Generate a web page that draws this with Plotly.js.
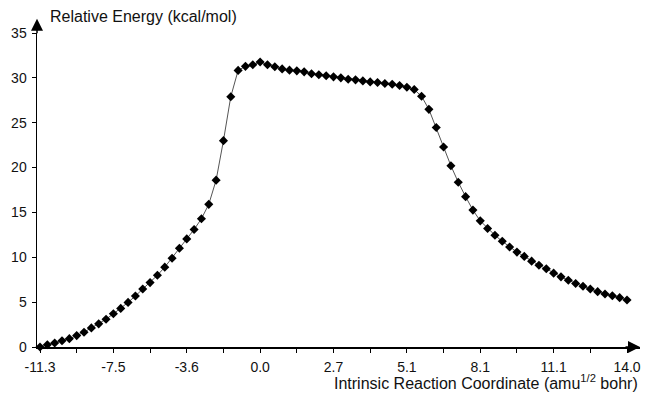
<!DOCTYPE html>
<html>
<head>
<meta charset="utf-8">
<script src="https://cdn.plot.ly/plotly-3.0.1.min.js"></script>
<style>
html,body{margin:0;padding:0;background:#fff;}
#chart{width:647px;height:412px;}
</style>
</head>
<body>
<div id="chart"></div>
<script>
// Relative energy (kcal/mol) along the IRC, one value per computed point (evenly spaced in index)
const energy = [
  0, 0.25, 0.45, 0.7, 0.93, 1.27, 1.65, 2.13, 2.58, 3.1,
  3.7, 4.3, 4.97, 5.69, 6.47, 7.18, 8.0, 8.9, 9.9, 11.0,
  12.05, 13.1, 14.3, 15.9, 18.6, 23.0, 27.9, 30.83, 31.28, 31.46,
  31.76, 31.46, 31.23, 31.0, 30.86, 30.78, 30.67, 30.45, 30.34, 30.23,
  30.11, 30.0, 29.85, 29.78, 29.66, 29.55, 29.49, 29.37, 29.29, 29.15,
  28.96, 28.7, 27.95, 26.49, 24.47, 22.3, 20.2, 18.37, 16.76, 15.26,
  14.06, 13.21, 12.46, 11.78, 11.14, 10.58, 10.1, 9.57, 9.12, 8.72,
  8.23, 7.82, 7.44, 7.07, 6.77, 6.47, 6.17, 5.91, 5.72, 5.5,
  5.24
];
// IRC tick labels (amu^1/2 bohr), one every 10 points
const ircLabels = ['-11.3', '-7.5', '-3.6', '0.0', '2.7', '5.1', '8.1', '11.1', '14.0'];
const labelEvery = 10;
const minorEvery = 5;

const idx = energy.map((_, i) => i);
const tickvals = [];
const ticktext = [];
for (let i = 0; i <= (ircLabels.length - 1) * labelEvery; i += minorEvery) {
  tickvals.push(i);
  ticktext.push(i % labelEvery === 0 ? ircLabels[i / labelEvery] : ' ');
}

const tickFont = {family: 'Liberation Sans, Arial, sans-serif', size: 14, color: '#111'};
const titleFont = {family: 'Liberation Sans, Arial, sans-serif', size: 16, color: '#111'};

const trace = {
  x: idx,
  y: energy,
  type: 'scatter',
  mode: 'lines+markers',
  line: {color: '#555', width: 1},
  marker: {symbol: 'diamond', size: 7, color: '#000'},
  cliponaxis: false,
  hoverinfo: 'skip'
};

const layout = {
  width: 647,
  height: 412,
  margin: {l: 37, r: 7, t: 33, b: 65},
  paper_bgcolor: '#fff',
  plot_bgcolor: '#fff',
  showlegend: false,
  font: tickFont,
  xaxis: {
    range: [-0.41, 81.77],
    tickmode: 'array',
    tickvals: tickvals,
    ticktext: ticktext,
    ticks: 'outside',
    ticklen: 4,
    tickcolor: '#000',
    tickwidth: 1,
    showline: true,
    linecolor: '#000',
    linewidth: 1.5,
    showgrid: false,
    zeroline: false,
    tickfont: tickFont,
    ticklabelstandoff: 3
  },
  yaxis: {
    range: [0, 35],
    tickmode: 'linear',
    tick0: 0,
    dtick: 5,
    ticks: 'outside',
    ticklen: 4,
    tickcolor: '#000',
    tickwidth: 1,
    showline: true,
    linecolor: '#000',
    linewidth: 1.5,
    showgrid: false,
    zeroline: false,
    tickfont: tickFont,
    ticklabelstandoff: 2
  },
  annotations: [
    {
      xref: 'paper', yref: 'paper', x: 0, y: 1.045,
      ax: 0, ay: 16, axref: 'pixel', ayref: 'pixel',
      showarrow: true, arrowhead: 2, arrowsize: 1.6, arrowwidth: 1.5, arrowcolor: '#000', text: ''
    },
    {
      xref: 'paper', yref: 'paper', x: 1.0, y: 0,
      ax: -16, ay: 0, axref: 'pixel', ayref: 'pixel',
      showarrow: true, arrowhead: 2, arrowsize: 1.6, arrowwidth: 1.5, arrowcolor: '#000', text: ''
    },
    {
      xref: 'paper', yref: 'paper', x: 0.018, y: 1.052,
      xanchor: 'left', yanchor: 'middle', showarrow: false,
      text: 'Relative Energy (kcal/mol)', font: titleFont
    },
    {
      xref: 'paper', yref: 'paper', x: 1.0, y: -0.112,
      xanchor: 'right', yanchor: 'middle', showarrow: false,
      text: 'Intrinsic Reaction Coordinate (amu<sup>1/2</sup> bohr)', font: titleFont
    }
  ]
};

Plotly.newPlot('chart', [trace], layout, {staticPlot: true, displayModeBar: false});
</script>
</body>
</html>
